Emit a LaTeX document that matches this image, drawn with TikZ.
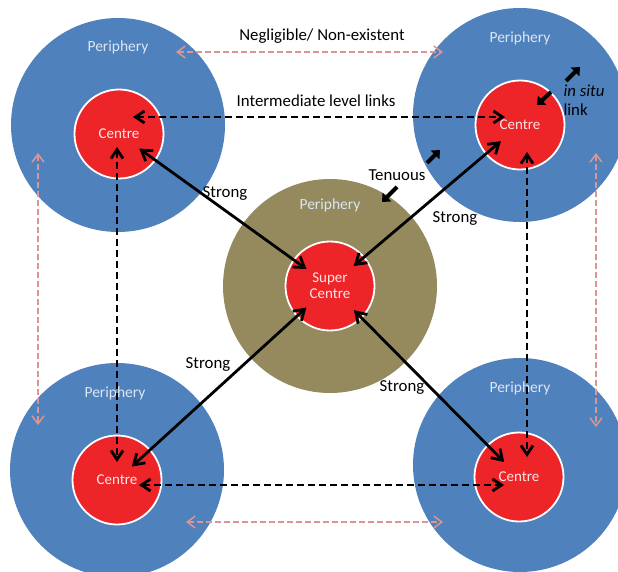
\documentclass[tikz,border=0pt]{standalone}
\usepackage{fontspec}
\setmainfont{Carlito}
\usetikzlibrary{arrows.meta}

\definecolor{periblue}{HTML}{4F81BD}
\definecolor{peritan}{HTML}{948A5E}
\definecolor{centrered}{HTML}{ED2428}
\definecolor{weaklink}{HTML}{D99694}
\definecolor{peritext}{HTML}{DCE6F2}

\begin{document}
\begin{tikzpicture}[x=1pt, y=-1pt]
	\tikzset{periph/.style={circle, fill=periblue, minimum size=214pt, inner sep=0pt}}
	\tikzset{superperiph/.style={periph, fill=peritan}}
	\tikzset{centre/.style={circle, draw=white, line width=1.8pt, fill=centrered,
				minimum size=89pt, inner sep=0pt, text=white!88!centrered, align=center,
				font=\fontsize{15}{16}\selectfont}}
	\tikzset{perilabel/.style={text=peritext, font=\fontsize{15.5}{18}\selectfont}}
	\tikzset{linklabel/.style={font=\fontsize{16.8}{19}\selectfont}}
	\tikzset{strong/.style={line width=2.8pt,
				{Straight Barb[length=10pt,width=13pt]}-{Straight Barb[length=10pt,width=13pt]}}}
	\tikzset{midlink/.style={line width=2.8pt, dash pattern=on 7pt off 4pt,
				{Straight Barb[length=9pt,width=12pt]}-{Straight Barb[length=9pt,width=12pt]}}}
	\tikzset{weak/.style={draw=weaklink, line width=1.5pt, dash pattern=on 6pt off 3pt,
				{Straight Barb[length=8pt,width=12pt]}-{Straight Barb[length=8pt,width=12pt]}}}
	\tikzset{tinyarrow/.style={line width=4pt, -{Triangle[length=7pt,width=12pt]}}}

	\useasboundingbox (0,0) rectangle (618,572);
	\clip (0,0) rectangle (618,572);

	% peripheries
	\node[periph] (tlp) at (118,125) {};
	\node[periph] (trp) at (520,115) {};
	\node[periph] (blp) at (117,470) {};
	\node[periph] (brp) at (520,465) {};
	\node[superperiph] (scp) at (330,286) {};

	\node[perilabel] () at (118,47) {Periphery};
	\node[perilabel] () at (520,38) {Periphery};
	\node[perilabel] () at (330,205) {Periphery};
	\node[perilabel] () at (115,393) {Periphery};
	\node[perilabel] () at (520,388) {Periphery};

	% centres
	\node[centre] (tl) at (119,134) {Centre};
	\node[centre] (tr) at (520,125) {Centre};
	\node[centre] (bl) at (117,480) {Centre};
	\node[centre] (br) at (519,477) {Centre};
	\node[centre] (sc) at (330,286) {Super\\Centre};

	% intermediate level links
	\draw[midlink, shorten <=14pt, shorten >=15pt] ([yshift=17pt]tl.center) -- ([yshift=8pt]tr.center);
	\draw[midlink, shorten <=22pt, shorten >=15pt] ([yshift=-5pt]bl.center) -- ([yshift=-8pt]br.center);
	\draw[midlink, shorten <=13pt, shorten >=18pt] ([xshift=-2pt]tl.center) -- ([xshift=-2pt]tl.center |- bl.center);
	\draw[midlink, shorten <=27pt, shorten >=20pt] ([xshift=7pt]tr.center) -- ([xshift=7pt]tr.center |- br.center);

	% strong links
	\draw[strong, shorten <=25pt, shorten >=29pt] (tl.center) -- (sc.center);
	\draw[strong, shorten <=25pt, shorten >=31pt] (tr.center) -- (sc.center);
	\draw[strong, shorten <=20pt, shorten >=32pt] (bl.center) -- (sc.center);
	\draw[strong, shorten <=21pt, shorten >=34pt] (br.center) -- (sc.center);

	% negligible links
	\coordinate (wt1) at (176,52);
	\coordinate (wt2) at (443,52);
	\coordinate (wb1) at (186,522);
	\coordinate (wb2) at (443,522);
	\coordinate (wl1) at (38,153);
	\coordinate (wl2) at (38,425);
	\coordinate (wr1) at (596,153);
	\coordinate (wr2) at (596,427);
	\draw[weak] (wt1) -- (wt2);
	\draw[weak] (wb1) -- (wb2);
	\draw[weak] (wl1) -- (wl2);
	\draw[weak] (wr1) -- (wr2);

	% tenuous and in situ
	\draw[tinyarrow] (427,163) -- (440,150);
	\draw[tinyarrow] (397,187) -- (382,202);
	\draw[tinyarrow] (566,81) -- (580,67);
	\draw[tinyarrow] (551,92) -- (537,105);

	\node[linklabel] () at (322,36) {Negligible/ Non-existent};
	\node[linklabel] () at (316,101) {Intermediate level links};
	\node[linklabel] () at (397,175) {Tenuous};
	\node[linklabel, anchor=west, align=left] () at (560,100) {\textit{in situ}\\link};
	\node[linklabel] () at (225,193) {Strong};
	\node[linklabel] () at (455,218) {Strong};
	\node[linklabel] () at (208,364) {Strong};
	\node[linklabel] () at (402,387) {Strong};
\end{tikzpicture}
\end{document}
